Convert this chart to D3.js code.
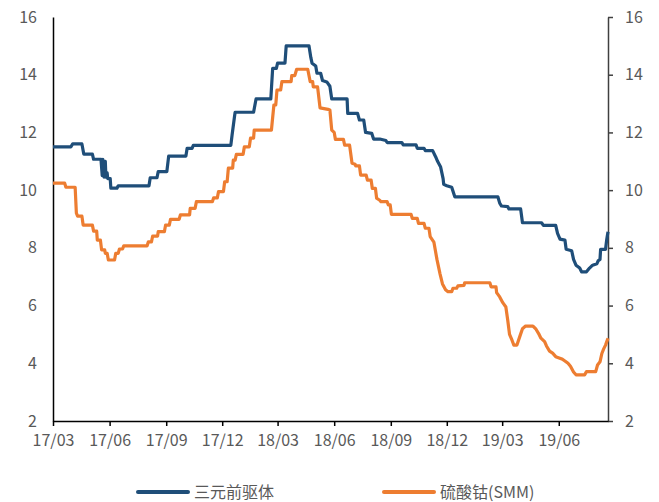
<!DOCTYPE html>
<html>
<head>
<meta charset="utf-8">
<script src="https://cdn.jsdelivr.net/npm/d3@7/dist/d3.min.js"></script>
<style>
  html, body { margin: 0; padding: 0; background: #fff; }
  svg { display: block; font-family: "Noto Sans CJK SC", "Noto Sans", sans-serif; }
</style>
</head>
<body>
<svg id="chart" width="659" height="502"></svg>
<script>
// Series names shown in the legend
const seriesNames = ["三元前驱体", "硫酸钴(SMM)"];

// 三元前驱体 price (date, value)
const precursor = [
  ["2017-03-01", 11.5], ["2017-03-30", 11.5], ["2017-04-02", 11.6], ["2017-04-17", 11.6],
  ["2017-04-20", 11.25], ["2017-05-04", 11.25], ["2017-05-06", 11.07], ["2017-05-18", 11.07],
  ["2017-05-20", 10.5], ["2017-05-21", 11.07], ["2017-05-23", 10.45], ["2017-05-25", 11.0],
  ["2017-05-26", 10.45], ["2017-05-28", 10.6], ["2017-05-29", 10.4], ["2017-06-02", 10.4],
  ["2017-06-03", 10.07], ["2017-06-13", 10.07], ["2017-06-15", 10.15], ["2017-08-04", 10.15],
  ["2017-08-06", 10.43], ["2017-08-17", 10.43], ["2017-08-19", 10.64], ["2017-09-02", 10.64],
  ["2017-09-05", 11.18], ["2017-10-03", 11.18], ["2017-10-05", 11.45], ["2017-10-13", 11.45],
  ["2017-10-15", 11.55], ["2017-12-15", 11.55], ["2017-12-17", 11.9], ["2017-12-21", 12.55],
  ["2017-12-22", 12.7], ["2018-01-21", 12.7], ["2018-01-25", 13.16], ["2018-02-18", 13.16],
  ["2018-02-21", 14.22], ["2018-02-27", 14.22], ["2018-03-01", 14.4], ["2018-03-13", 14.4],
  ["2018-03-15", 15.0], ["2018-04-21", 15.0], ["2018-04-24", 14.6], ["2018-04-26", 14.4],
  ["2018-05-02", 14.3], ["2018-05-04", 14.05], ["2018-05-10", 14.05], ["2018-05-13", 13.8],
  ["2018-05-20", 13.75], ["2018-05-25", 13.6], ["2018-05-28", 13.16], ["2018-06-22", 13.16],
  ["2018-06-23", 12.66], ["2018-07-09", 12.66], ["2018-07-12", 12.43], ["2018-07-19", 12.43],
  ["2018-07-22", 12.0], ["2018-08-01", 11.97], ["2018-08-04", 11.77], ["2018-08-14", 11.77],
  ["2018-08-24", 11.72], ["2018-08-26", 11.65], ["2018-09-19", 11.65], ["2018-09-21", 11.57],
  ["2018-10-12", 11.57], ["2018-10-14", 11.45], ["2018-10-25", 11.45], ["2018-10-27", 11.37],
  ["2018-11-08", 11.37], ["2018-11-13", 11.15], ["2018-11-16", 11.0], ["2018-11-21", 10.8],
  ["2018-11-25", 10.4], ["2018-11-26", 10.2], ["2018-12-01", 10.15], ["2018-12-09", 10.1],
  ["2018-12-14", 9.77], ["2019-02-22", 9.77], ["2019-02-25", 9.55], ["2019-02-28", 9.45],
  ["2019-03-10", 9.43], ["2019-03-12", 9.35], ["2019-03-31", 9.35], ["2019-04-03", 8.87],
  ["2019-05-04", 8.87], ["2019-05-07", 8.78], ["2019-05-27", 8.78], ["2019-05-30", 8.5],
  ["2019-06-03", 8.3], ["2019-06-11", 8.27], ["2019-06-13", 7.95], ["2019-06-22", 7.9],
  ["2019-06-25", 7.6], ["2019-06-29", 7.4], ["2019-07-05", 7.3], ["2019-07-08", 7.17],
  ["2019-07-16", 7.17], ["2019-07-21", 7.3], ["2019-07-26", 7.4], ["2019-08-02", 7.45],
  ["2019-08-04", 7.55], ["2019-08-07", 7.6], ["2019-08-08", 7.95], ["2019-08-16", 7.95],
  ["2019-08-18", 8.3], ["2019-08-20", 8.56]
];

// 硫酸钴(SMM) price (date, value)
const cobaltSulfate = [
  ["2017-03-01", 10.24], ["2017-03-20", 10.24], ["2017-03-22", 10.1], ["2017-04-06", 10.1],
  ["2017-04-08", 9.2], ["2017-04-10", 9.1], ["2017-04-17", 9.1], ["2017-04-19", 8.79],
  ["2017-05-04", 8.79], ["2017-05-06", 8.58], ["2017-05-11", 8.58], ["2017-05-12", 8.27],
  ["2017-05-17", 8.27], ["2017-05-19", 7.93], ["2017-05-24", 7.93], ["2017-05-25", 7.81],
  ["2017-05-28", 7.81], ["2017-05-30", 7.58], ["2017-06-09", 7.58], ["2017-06-11", 7.81],
  ["2017-06-15", 7.81], ["2017-06-17", 7.96], ["2017-06-22", 7.96], ["2017-06-24", 8.07],
  ["2017-08-01", 8.07], ["2017-08-03", 8.21], ["2017-08-08", 8.21], ["2017-08-10", 8.41],
  ["2017-08-18", 8.41], ["2017-08-19", 8.56], ["2017-08-29", 8.56], ["2017-08-31", 8.79],
  ["2017-09-06", 8.79], ["2017-09-08", 8.99], ["2017-09-22", 8.99], ["2017-09-24", 9.14],
  ["2017-10-09", 9.14], ["2017-10-10", 9.37], ["2017-10-18", 9.37], ["2017-10-20", 9.6],
  ["2017-11-15", 9.6], ["2017-11-17", 9.73], ["2017-11-23", 9.73], ["2017-11-25", 9.95],
  ["2017-12-03", 9.95], ["2017-12-05", 10.29], ["2017-12-09", 10.29], ["2017-12-11", 10.76],
  ["2017-12-18", 10.76], ["2017-12-19", 11.04], ["2017-12-22", 11.04], ["2017-12-24", 11.24],
  ["2018-01-04", 11.24], ["2018-01-06", 11.5], ["2018-01-14", 11.5], ["2018-01-16", 11.8],
  ["2018-01-21", 11.8], ["2018-01-22", 12.08], ["2018-02-19", 12.08], ["2018-02-23", 12.95],
  ["2018-02-26", 12.95], ["2018-02-28", 13.47], ["2018-03-06", 13.47], ["2018-03-08", 13.76],
  ["2018-03-23", 13.76], ["2018-03-24", 13.97], ["2018-03-29", 13.97], ["2018-04-01", 14.19],
  ["2018-04-19", 14.19], ["2018-04-23", 13.76], ["2018-04-27", 13.76], ["2018-04-28", 13.58],
  ["2018-05-05", 13.58], ["2018-05-09", 12.85], ["2018-05-22", 12.8], ["2018-05-25", 12.78],
  ["2018-05-28", 12.08], ["2018-06-01", 12.0], ["2018-06-03", 11.76], ["2018-06-16", 11.76],
  ["2018-06-18", 11.56], ["2018-06-26", 11.56], ["2018-06-30", 10.93], ["2018-07-05", 10.9],
  ["2018-07-06", 10.84], ["2018-07-12", 10.84], ["2018-07-14", 10.52], ["2018-07-23", 10.52],
  ["2018-07-25", 10.35], ["2018-07-31", 10.35], ["2018-08-02", 10.06], ["2018-08-07", 10.06],
  ["2018-08-09", 9.72], ["2018-08-14", 9.65], ["2018-08-16", 9.6], ["2018-08-26", 9.6],
  ["2018-08-28", 9.49], ["2018-08-31", 9.49], ["2018-09-02", 9.16], ["2018-10-04", 9.16],
  ["2018-10-06", 9.02], ["2018-10-14", 9.02], ["2018-10-16", 8.85], ["2018-10-25", 8.85],
  ["2018-10-27", 8.68], ["2018-11-02", 8.68], ["2018-11-04", 8.39], ["2018-11-10", 8.2],
  ["2018-11-15", 7.6], ["2018-11-20", 7.1], ["2018-11-24", 6.75], ["2018-11-29", 6.55],
  ["2018-12-03", 6.48], ["2018-12-09", 6.48], ["2018-12-11", 6.6], ["2018-12-17", 6.6],
  ["2018-12-19", 6.68], ["2018-12-29", 6.7], ["2018-12-30", 6.79], ["2019-02-09", 6.79],
  ["2019-02-11", 6.65], ["2019-02-19", 6.65], ["2019-02-20", 6.45], ["2019-02-25", 6.3],
  ["2019-03-02", 6.1], ["2019-03-07", 5.95], ["2019-03-10", 5.5], ["2019-03-13", 5.0],
  ["2019-03-17", 4.8], ["2019-03-20", 4.63], ["2019-03-25", 4.63], ["2019-03-30", 4.95],
  ["2019-04-03", 5.2], ["2019-04-08", 5.29], ["2019-04-20", 5.29], ["2019-04-25", 5.18],
  ["2019-04-30", 5.0], ["2019-05-03", 4.87], ["2019-05-09", 4.75], ["2019-05-12", 4.6],
  ["2019-05-17", 4.42], ["2019-05-22", 4.35], ["2019-05-27", 4.23], ["2019-06-06", 4.15],
  ["2019-06-11", 4.08], ["2019-06-16", 4.0], ["2019-06-20", 3.9], ["2019-06-25", 3.7],
  ["2019-06-29", 3.6], ["2019-07-13", 3.6], ["2019-07-16", 3.71], ["2019-07-31", 3.71],
  ["2019-08-03", 3.94], ["2019-08-07", 4.05], ["2019-08-10", 4.34], ["2019-08-13", 4.5],
  ["2019-08-16", 4.63], ["2019-08-18", 4.75], ["2019-08-20", 4.87]
];

// Axis ticks
const yTicks = [2, 4, 6, 8, 10, 12, 14, 16];
const xTickDates = ["2017-03-01", "2017-06-01", "2017-09-01", "2017-12-01",
                    "2018-03-01", "2018-06-01", "2018-09-01", "2018-12-01",
                    "2019-03-01", "2019-06-01"];
const xDomain = ["2017-03-01", "2019-08-20"];

const colors = ["#1F4E79", "#ED7D31"];
const textColor = "#595959";
const labelFont = "'Noto Sans CJK SC', 'Noto Sans', sans-serif";

const parse = d3.timeParse("%Y-%m-%d");
const svg = d3.select("#chart");

const plot = { left: 53, right: 608, top: 17, bottom: 421 };

const x = d3.scaleTime().domain(xDomain.map(parse)).range([plot.left, plot.right]);
const y = d3.scaleLinear().domain([2, 16]).range([plot.bottom, plot.top]);

// Left axis: plain line with labels, no tick marks
const yLeft = svg.append("g").attr("transform", `translate(${plot.left},0)`)
  .call(d3.axisLeft(y).tickValues(yTicks).tickSize(0).tickPadding(16).tickFormat(d3.format("d")));
yLeft.select(".domain").attr("stroke", "#000").attr("stroke-width", 1.5);

// Right axis: outward ticks
const yRight = svg.append("g").attr("transform", `translate(${plot.right},0)`)
  .call(d3.axisRight(y).tickValues(yTicks).tickSizeInner(5).tickSizeOuter(0).tickPadding(12).tickFormat(d3.format("d")));
yRight.select(".domain").attr("stroke", "#404040").attr("stroke-width", 1.5);
yRight.selectAll(".tick line").attr("stroke", "#404040").attr("stroke-width", 1.5);

[yLeft, yRight].forEach(g => g.selectAll(".tick text")
  .attr("fill", textColor).style("font-size", "16px").style("font-family", labelFont));

// Bottom axis
const xAxis = svg.append("g").attr("transform", `translate(0,${plot.bottom})`)
  .call(d3.axisBottom(x).tickValues(xTickDates.map(parse))
    .tickSizeInner(5).tickSizeOuter(0).tickPadding(9).tickFormat(d3.timeFormat("%y/%m")));
xAxis.select(".domain").attr("stroke", "#000").attr("stroke-width", 1.5);
xAxis.selectAll(".tick line").attr("stroke", "#000").attr("stroke-width", 1.5);
xAxis.selectAll(".tick text").attr("fill", textColor).style("font-size", "16px")
  .style("font-family", labelFont);

// Lines
const line = d3.line()
  .x(d => x(parse(d[0])))
  .y(d => y(d[1]));

[precursor, cobaltSulfate].forEach((series, i) => {
  svg.append("path")
    .datum(series)
    .attr("fill", "none")
    .attr("stroke", colors[i])
    .attr("stroke-width", 3.2)
    .attr("stroke-linejoin", "round")
    .attr("d", line);
});

// Legend
const legendItems = [
  { x1: 138, x2: 188, tx: 194 },
  { x1: 384, x2: 434, tx: 440 }
];
legendItems.forEach((it, i) => {
  svg.append("line")
    .attr("x1", it.x1).attr("x2", it.x2).attr("y1", 492).attr("y2", 492)
    .attr("stroke", colors[i]).attr("stroke-width", 4).attr("stroke-linecap", "round");
  svg.append("text")
    .attr("x", it.tx).attr("y", 492).attr("dy", "0.35em")
    .attr("fill", textColor).style("font-size", "16px").style("font-family", labelFont)
    .text(seriesNames[i]);
});
</script>
</body>
</html>
